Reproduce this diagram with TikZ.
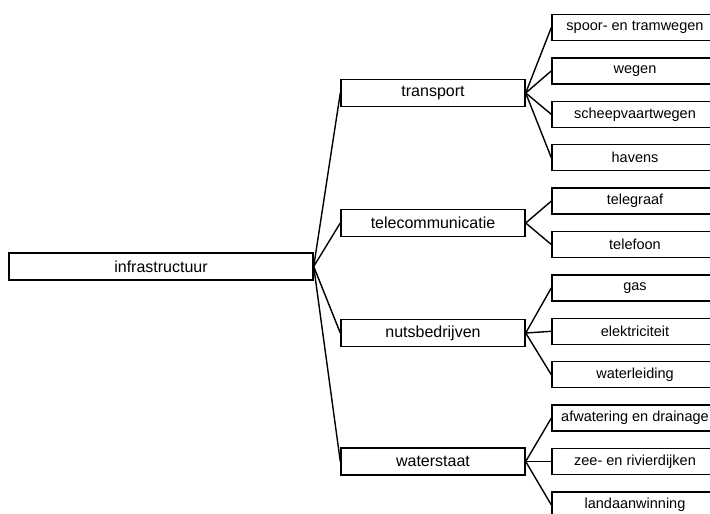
\documentclass[tikz,border=0pt]{standalone}
\usepackage{fontspec}
\setmainfont{Liberation Sans}
\begin{document}
\begin{tikzpicture}[x=1pt,y=-1pt,
  box/.style={draw=black,line width=1.4pt,fill=white,inner sep=0pt,anchor=center},
  rootbox/.style={box,minimum width=304pt,minimum height=27pt,font=\fontsize{16}{18}\selectfont},
  midbox/.style={box,minimum width=184pt,minimum height=27pt,font=\fontsize{16}{18}\selectfont},
  leafbox/.style={box,minimum width=166pt,minimum height=26pt,font=\fontsize{14.5}{16}\selectfont},
  link/.style={line width=1.4pt,black}]
\useasboundingbox (0,0) rectangle (710,514);
\clip (0,0) rectangle (710,514);
\fill[white] (0,0) rectangle (710,514);
\node[rootbox] (root) at (161,266.5) {infrastructuur};
\node[midbox] (transport) at (433,93) {transport};
\node[midbox] (telecom) at (433,223) {telecommunicatie};
\node[midbox] (nuts) at (433,333) {nutsbedrijven};
\node[midbox] (water) at (433,461.5) {waterstaat};
\node[leafbox] (l1) at (635,27.5) {spoor- en tramwegen};
\node[leafbox] (l2) at (635,70.9) {wegen};
\node[leafbox] (l3) at (635,114.3) {scheepvaartwegen};
\node[leafbox] (l4) at (635,157.7) {havens};
\node[leafbox] (l5) at (635,201.1) {telegraaf};
\node[leafbox] (l6) at (635,244.5) {telefoon};
\node[leafbox] (l7) at (635,287.9) {gas};
\node[leafbox] (l8) at (635,331.3) {elektriciteit};
\node[leafbox] (l9) at (635,374.7) {waterleiding};
\node[leafbox] (l10) at (635,418.1) {afwatering en drainage};
\node[leafbox] (l11) at (635,461.5) {zee- en rivierdijken};
\node[leafbox] (l12) at (635,504.9) {landaanwinning};
\foreach \c in {transport,telecom,nuts,water}
  \draw[link] (root.east) -- (\c.west);
\foreach \c in {l1,l2,l3,l4}
  \draw[link] (transport.east) -- (\c.west);
\foreach \c in {l5,l6}
  \draw[link] (telecom.east) -- (\c.west);
\foreach \c in {l7,l8,l9}
  \draw[link] (nuts.east) -- (\c.west);
\foreach \c in {l10,l11,l12}
  \draw[link] (water.east) -- (\c.west);
\end{tikzpicture}
\end{document}
